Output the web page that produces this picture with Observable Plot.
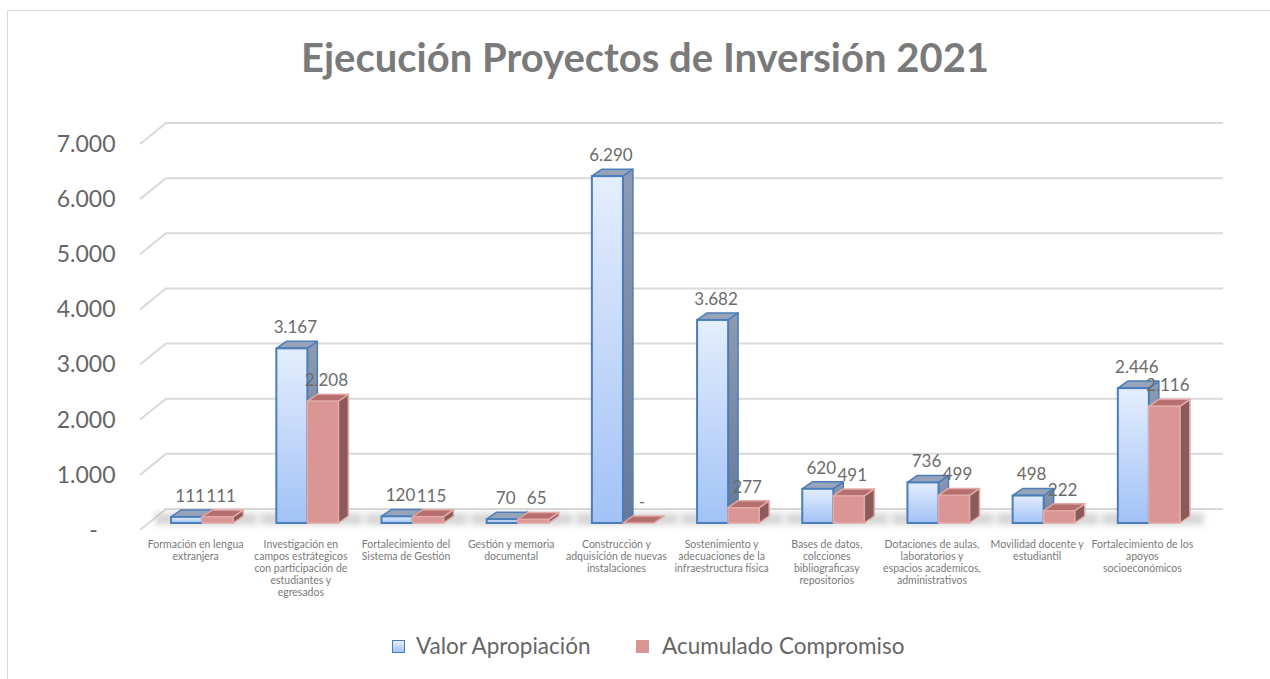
<!DOCTYPE html>
<html>
<head>
<meta charset="utf-8">
<script src="https://cdn.jsdelivr.net/npm/d3@7"></script>
<script src="https://cdn.jsdelivr.net/npm/@observablehq/plot@0.6"></script>
<style>
  body { margin: 0; background: #fff; font-family: Lato, "Open Sans", sans-serif; }
  #wrap { position: relative; width: 1270px; height: 679px; overflow: hidden; background: #fff; }
  #frame { position: absolute; left: 7px; top: 10px; width: 1400px; height: 800px;
           border-left: 1.5px solid #d9d9d9; border-top: 1.5px solid #d9d9d9; }
  #title { position: absolute; left: 0; top: 33px; width: 1290px; text-align: center;
           font-weight: 700; font-size: 40px; line-height: 48px; color: #7a7a7a; }
  #chart { position: absolute; left: 0; top: 100px; }
  .leg { position: absolute; top: 632px; font-size: 22.5px; line-height: 27px; color: #666; }
  .sw { position: absolute; width: 11px; height: 11px; top: 640px; }
</style>
</head>
<body>
<div id="wrap">
  <div id="frame"></div>
  <div id="title">Ejecución Proyectos de Inversión 2021</div>
  <div id="chart"></div>
  <div class="sw" style="left:392px;background:linear-gradient(#e3eefc,#a3c3f5);border:1.5px solid #4a7ebb;"></div>
  <div class="leg" style="left:416px;">Valor Apropiación</div>
  <div class="sw" style="left:636px;background:#d99694;border:1.5px solid #d99694;"></div>
  <div class="leg" style="left:662px;">Acumulado Compromiso</div>
</div>
<script>
// ---- data ----
const categories = [
  "Formación en lengua extranjera",
  "Investigación en campos estrátegicos con participación de estudiantes y egresados",
  "Fortalecimiento del Sistema de Gestión",
  "Gestión y memoria documental",
  "Construcción y adquisición de nuevas instalaciones",
  "Sostenimiento y adecuaciones de la infraestructura física",
  "Bases de datos, colcciones bibliograficasy repositorios",
  "Dotaciones de aulas, laboratorios y espacios academicos, administrativos",
  "Movilidad docente y estudiantil",
  "Fortalecimiento de los apoyos socioeconómicos"
];
const categoryLabels = [
  "Formación en lengua\nextranjera",
  "Investigación en\ncampos estrátegicos\ncon participación de\nestudiantes y\negresados",
  "Fortalecimiento del\nSistema de Gestión",
  "Gestión y memoria\ndocumental",
  "Construcción y\nadquisición de nuevas\ninstalaciones",
  "Sostenimiento y\nadecuaciones de la\ninfraestructura física",
  "Bases de datos,\ncolcciones\nbibliograficasy\nrepositorios",
  "Dotaciones de aulas,\nlaboratorios y\nespacios academicos,\nadministrativos",
  "Movilidad docente y\nestudiantil",
  "Fortalecimiento de los\napoyos\nsocioeconómicos"
];
const valorApropiacion    = [111, 3167, 120, 70, 6290, 3682, 620, 736, 498, 2446];
const acumuladoCompromiso = [111, 2208, 115, 65,    0,  277, 491, 499, 222, 2116];
const yTicks = [0, 1000, 2000, 3000, 4000, 5000, 6000, 7000];

const rows = categories.map((c, i) => ({
  category: c, label: categoryLabels[i],
  valor: valorApropiacion[i], compromiso: acumuladoCompromiso[i]
}));

const fmt = v => v === 0 ? "-" : d3.format(",")(v).replace(/,/g, ".");
const fmtAxis = v => v === 0 ? "-\u00a0\u00a0\u00a0" : fmt(v);

// ---- 3D look parameters ----
const BAR_DY = -7;   // bars sit slightly behind the front plane
const D = 10, E = 7; // box depth offsets
const HALF = 31;     // half band width (each bar)

function bw(x) { return typeof x.bandwidth === "function" ? x.bandwidth() : 2 * HALF; }

// gradients, back-wall gridlines and floor shadows
function background(index, scales, values, dim) {
  const x = scales.x, y = scales.y;
  const g = d3.create("svg:g");
  const defs = g.append("defs");
  const gb = defs.append("linearGradient").attr("id", "gBlue").attr("x1", 0).attr("y1", 0).attr("x2", 0).attr("y2", 1);
  gb.append("stop").attr("offset", "0%").attr("stop-color", "#e4eefd");
  gb.append("stop").attr("offset", "100%").attr("stop-color", "#a2c2f6");
  const gs = defs.append("linearGradient").attr("id", "gBlueSide").attr("x1", 0).attr("y1", 0).attr("x2", 0).attr("y2", 1);
  gs.append("stop").attr("offset", "0%").attr("stop-color", "#8e9bb1");
  gs.append("stop").attr("offset", "100%").attr("stop-color", "#66799a");
  const f = defs.append("filter").attr("id", "blur").attr("x", "-20%").attr("y", "-100%").attr("width", "140%").attr("height", "300%");
  f.append("feGaussianBlur").attr("stdDeviation", 3);

  const left = dim.marginLeft + 12, wall = dim.marginLeft + 38, right = dim.width - dim.marginRight;
  for (const t of yTicks) {
    const yy = y(t);
    g.append("path")
      .attr("d", `M${left},${yy}L${wall},${yy - 21}L${right},${yy - 21}`)
      .attr("fill", "none").attr("stroke", "#d9d9d9").attr("stroke-width", 2);
  }
  const b = bw(x);
  for (const r of rows) {
    const x0 = x(r.category);
    g.append("rect")
      .attr("x", x0 - 16).attr("y", y(0) + BAR_DY - E - 3)
      .attr("width", b + D + 30).attr("height", 12)
      .attr("fill", "#9a9a9a").attr("opacity", 0.4).attr("filter", "url(#blur)");
  }
  return g.node();
}

function faces(key, topFill, sideFill, stroke) {
  return (index, scales, values, dim) => {
    const x = scales.x, y = scales.y;
    const b = bw(x);
    const g = d3.create("svg:g").attr("stroke", stroke).attr("stroke-width", 1.5).attr("stroke-linejoin", "round");
    for (const r of rows) {
      const x0 = x(r.category) + (key === "compromiso" ? b / 2 : 0);
      const x1 = x0 + b / 2;
      const yt = y(r[key]) + BAR_DY, yb = y(0) + BAR_DY;
      g.append("path").attr("fill", sideFill)
        .attr("d", `M${x1},${yt}L${x1 + D},${yt - E}L${x1 + D},${yb - E}L${x1},${yb}Z`);
      g.append("path").attr("fill", topFill)
        .attr("d", `M${x0},${yt}L${x1},${yt}L${x1 + D},${yt - E}L${x0 + D},${yt - E}Z`);
    }
    return g.node();
  };
}

const chart = Plot.plot({
  width: 1270,
  height: 520,
  marginLeft: 128,
  marginRight: 47,
  marginTop: 44,
  marginBottom: 90,
  style: { fontFamily: "Lato, 'Open Sans', sans-serif", fontSize: "23px", color: "#666", background: "transparent", overflow: "visible" },
  x: { domain: categories, padding: 0.41, round: false, axis: null },
  y: { domain: [0, 7000], ticks: yTicks, tickFormat: fmtAxis, tickSize: 0, tickPadding: 13, label: null },
  marks: [
    background,
    faces("valor", "#97a3b8", "url(#gBlueSide)", "#4a7ebb"),
    Plot.barY(rows, { x: "category", y: "valor", insetRight: HALF, dy: BAR_DY,
      fill: "url(#gBlue)", stroke: "#4a7ebb", strokeWidth: 2 }),
    faces("compromiso", "#b5706e", "#8b5b5a", "#e3a9a7"),
    Plot.barY(rows, { x: "category", y: "compromiso", insetLeft: HALF, dy: BAR_DY,
      fill: "#d99694", stroke: "#e3a9a7", strokeWidth: 1.5 }),
    Plot.text(rows, { x: "category", y: "valor", text: d => fmt(d.valor),
      dx: -12.5, dy: -28, fontSize: 17, fill: "#6b6b6b" }),
    Plot.text(rows, { x: "category", y: "compromiso", text: d => fmt(d.compromiso),
      dx: 18.5, dy: -28, fontSize: 17, fill: "#6b6b6b" }),
    Plot.text(rows, { x: "category", y: () => 0, text: "label", lineAnchor: "top",
      dx: -7, dy: 9, fontSize: 10.5, lineHeight: 1.14, fill: "#7a7a7a" })
  ]
});
document.getElementById("chart").appendChild(chart);
</script>
</body>
</html>
